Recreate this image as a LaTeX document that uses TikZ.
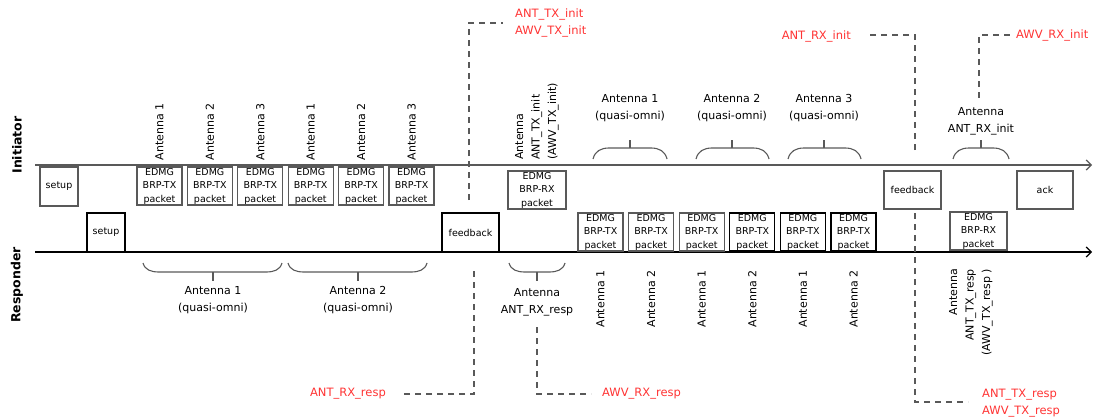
\documentclass[tikz,border=0pt]{standalone}
\usepackage{fontspec}
\setmainfont{DejaVu Sans}
\usepackage{tikz}
\usetikzlibrary{positioning, arrows.meta}

\definecolor{lgray}{RGB}{89,89,89}
\definecolor{lred}{RGB}{255,51,51}

\begin{document}
\begin{tikzpicture}[
    x=1pt, y=-1pt,
    pkt/.style={draw=lgray, line width=1.1pt, minimum width=45pt, minimum height=38pt,
                inner sep=0pt, align=center, font=\fontsize{9.5}{13.5}\selectfont},
    blk/.style={draw=black},
    ant/.style={rotate=90, inner sep=0pt, font=\fontsize{11}{16.5}\selectfont},
    lbl/.style={align=center, inner sep=0pt, font=\fontsize{11}{17}\selectfont},
    redlbl/.style={text=lred, align=left, inner sep=0pt, font=\fontsize{11.5}{17}\selectfont},
    side/.style={rotate=90, inner sep=0pt, font=\fontsize{12.5}{14}\selectfont\bfseries},
    tline/.style={line width=1.2pt, -{Straight Barb[length=5pt, width=10pt]}},
    dline/.style={draw=lgray, line width=1.1pt, dash pattern=on 6pt off 5pt},
    brc/.style={draw=lgray, line width=1.1pt}
  ]
  \useasboundingbox (0,0) rectangle (1094,417);

  % time lines
  \coordinate (istart) at (35,165);
  \coordinate (iend)   at (1092,165);
  \coordinate (rstart) at (35,252);
  \coordinate (rend)   at (1092,252);
  \draw[tline, lgray] (istart) -- (iend);
  \draw[tline] (rstart) -- (rend);

  \node[side] (init) at (17,145) {Initiator};
  \node[side] (resp) at (17,285) {Responder};

  % initiator packets
  \node[pkt, minimum width=38pt, minimum height=39pt] (isetup) at (59,186.5) {setup};
  \foreach \i in {1,...,6}
    \node[pkt] (itx\i) at ({159.5+50.4*(\i-1)},186) {EDMG\\BRP-TX\\packet};
  \node[pkt, minimum width=58pt] (irx) at (537,190) {EDMG\\BRP-RX\\packet};
  \node[pkt, minimum width=57pt] (ifb) at (912.5,190) {feedback};
  \node[pkt, minimum width=56pt] (iack) at (1045,190) {ack};

  % responder packets
  \node[pkt, blk, minimum width=38pt, minimum height=39pt] (rsetup) at (106,232.5) {setup};
  \node[pkt, blk, minimum width=57pt, minimum height=39pt] (rfb) at (470.5,232.5) {feedback};
  \foreach \i/\c in {1/lgray, 2/lgray, 3/lgray, 4/black, 5/black, 6/black}
    \node[pkt, draw=\c] (rtx\i) at ({600.5+50.6*(\i-1)},232) {EDMG\\BRP-TX\\packet};
  \node[pkt, minimum width=57pt] (rrx) at (978.5,231) {EDMG\\BRP-RX\\packet};

  % antenna labels
  \foreach \i/\n in {1/1, 2/2, 3/3, 4/1, 5/2, 6/3}
    \node[ant, anchor=west] (iant\i) at ([yshift=6pt]itx\i.north) {Antenna \n};
  \foreach \i/\n in {1/1, 2/2, 3/1, 4/2, 5/1, 6/2}
    \node[ant, anchor=east] (rant\i) at ([yshift=-19pt]rtx\i.south) {Antenna \n};
  \node[ant, anchor=west, align=left] (irxant) at (537,160)
    {Antenna\\ANT\_TX\_init\\(AWV\_TX\_init)};
  \node[ant, anchor=east, align=right] (rrxant) at (971,269)
    {Antenna\\ANT\_TX\_resp\\(AWV\_TX\_resp )};

  % braces
  \foreach \a/\b/\m in {593/667/630, 696/769/732, 788/861/824, 953/1009/981} {
    \draw[brc] (\a,159) .. controls (\a+2,151) and (\a+8,148) .. (\a+16,148)
      -- (\b-16,148) .. controls (\b-8,148) and (\b-2,151) .. (\b,159);
    \draw[brc] (\m,148) -- (\m,140);
  }
  \foreach \a/\b/\m in {143/282/213, 288/427/358, 509/565/537} {
    \draw[brc] (\a,263) .. controls (\a+2,270) and (\a+8,272) .. (\a+16,272)
      -- (\b-16,272) .. controls (\b-8,272) and (\b-2,270) .. (\b,263);
    \draw[brc] (\m,272) -- (\m,281);
  }
  \node[lbl] (qo1) at (630,108.5) {Antenna 1\\(quasi-omni)};
  \node[lbl] (qo2) at (732,108.5) {Antenna 2\\(quasi-omni)};
  \node[lbl] (qo3) at (824,108.5) {Antenna 3\\(quasi-omni)};
  \node[lbl] (rxi) at (981,121.5) {Antenna\\ANT\_RX\_init};
  \node[lbl] (qo4) at (213,300.5) {Antenna 1\\(quasi-omni)};
  \node[lbl] (qo5) at (358,300.5) {Antenna 2\\(quasi-omni)};
  \node[lbl] (rxr) at (537,302) {Antenna\\ANT\_RX\_resp};

  % red labels
  \node[redlbl, anchor=west] (txinit) at (515,23) {ANT\_TX\_init\\AWV\_TX\_init};
  \node[redlbl, anchor=east] (antrxi) at (851,36) {ANT\_RX\_init};
  \node[redlbl, anchor=west] (awvrxi) at (1016,35) {AWV\_RX\_init};
  \node[redlbl, anchor=east] (antrxr) at (386,394) {ANT\_RX\_resp};
  \node[redlbl, anchor=west] (awvrxr) at (602,394) {AWV\_RX\_resp};
  \node[redlbl, anchor=west] (txresp) at (982,403) {ANT\_TX\_resp\\AWV\_TX\_resp};

  % dashed leaders
  \coordinate (d1a) at (469,200);  \coordinate (d1b) at (503,23);
  \coordinate (d2a) at (474,271);  \coordinate (d2b) at (401,394);
  \coordinate (d3a) at (537,327);  \coordinate (d3b) at (591,394);
  \coordinate (d4a) at (915,150);  \coordinate (d4b) at (869,35);
  \coordinate (d5a) at (979,98);   \coordinate (d5b) at (1013,35);
  \coordinate (d6a) at (915,213);  \coordinate (d6b) at (968,402);
  \foreach \k in {1,...,6}
    \draw[dline] (d\k a) |- (d\k b);
\end{tikzpicture}
\end{document}
